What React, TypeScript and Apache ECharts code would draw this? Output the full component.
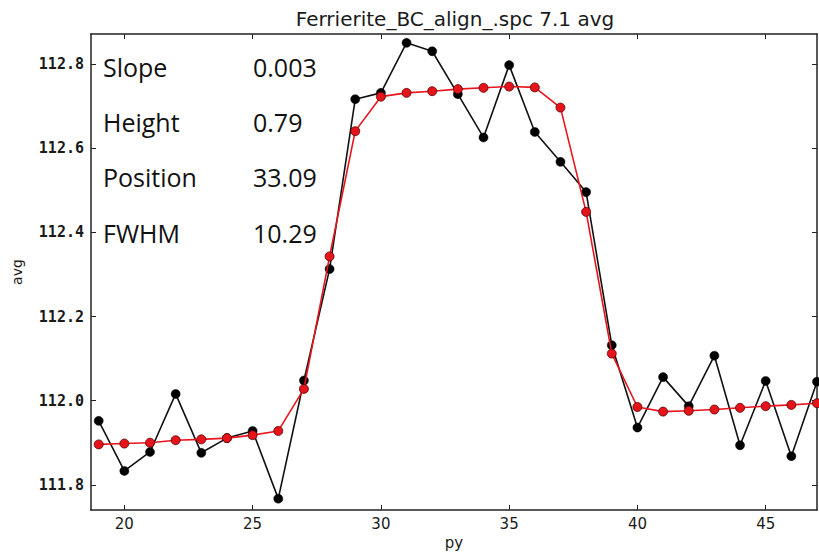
import React, { useEffect, useRef } from "react";
import * as echarts from "echarts";

const pyValues = [19, 20, 21, 22, 23, 24, 25, 26, 27, 28, 29, 30, 31, 32, 33, 34, 35, 36, 37, 38, 39, 40, 41, 42, 43, 44, 45, 46, 47];
const avgMeasured = [111.952, 111.833, 111.878, 112.016, 111.876, 111.911, 111.928, 111.767, 112.048, 112.313, 112.717, 112.732, 112.851, 112.831, 112.729, 112.626, 112.798, 112.639, 112.568, 112.496, 112.132, 111.936, 112.056, 111.987, 112.107, 111.894, 112.047, 111.868, 112.045];
const avgFit = [111.896, 111.898, 111.900, 111.906, 111.908, 111.911, 111.918, 111.928, 112.028, 112.343, 112.641, 112.723, 112.732, 112.736, 112.741, 112.744, 112.747, 112.745, 112.697, 112.449, 112.112, 111.985, 111.974, 111.976, 111.979, 111.983, 111.987, 111.990, 111.994];
const xTicks = [20, 25, 30, 35, 40, 45];
const yTicks = [111.8, 112.0, 112.2, 112.4, 112.6, 112.8];
const fitParamNames = ["Slope", "Height", "Position", "FWHM"];
const fitParamValues = ["0.003", "0.79", "33.09", "10.29"];
const chartTitle = "Ferrierite_BC_align_.spc 7.1 avg";
const xName = "py";
const yName = "avg";

const X_MIN = 18.7, X_MAX = 47;
const Y_MIN = 111.74, Y_MAX = 112.872;

export default function App() {
  const ref = useRef<HTMLDivElement>(null);
  useEffect(() => {
    if (!ref.current) return;
    const chart = echarts.init(ref.current, null, { renderer: "svg" });
    const lineCol = "#222";
    const axisCommon = (pos: string, withLabels: boolean, ticks: number[], isY: boolean) => ({
      type: "value",
      position: pos,
      min: isY ? Y_MIN : X_MIN,
      max: isY ? Y_MAX : X_MAX,
      axisLine: { show: true, onZero: false, lineStyle: { color: lineCol, width: 1.5 } },
      axisTick: { show: true, inside: true, length: 5, customValues: ticks, lineStyle: { color: lineCol, width: 1 } },
      axisLabel: withLabels
        ? {
            show: true,
            customValues: ticks,
            margin: isY ? 7 : 6,
            fontFamily: isY ? "DejaVu Sans Mono" : "DejaVu Sans",
            fontWeight: isY ? "bold" : "normal",
            fontSize: 15,
            color: "#1a1a1a",
            formatter: (v: number) => (isY ? v.toFixed(1) : String(Math.round(v))),
          }
        : { show: false },
      splitLine: { show: false },
    });

    const graphics: any[] = [
      {
        type: "text",
        x: 455,
        y: 19,
        style: { text: chartTitle, align: "center", verticalAlign: "middle", font: '20px "DejaVu Sans"', fill: "#1a1a1a" },
      },
      {
        type: "text",
        x: 17,
        y: 272,
        rotation: Math.PI / 2,
        style: { text: yName, align: "center", verticalAlign: "middle", font: '14px "DejaVu Sans"', fill: "#1a1a1a" },
      },
      {
        type: "text",
        x: 454,
        y: 543,
        style: { text: xName, align: "center", verticalAlign: "middle", font: '15px "DejaVu Sans"', fill: "#1a1a1a" },
      },
    ];
    const rowY = [67, 122, 177, 233];
    fitParamNames.forEach((n, i) => {
      graphics.push({
        type: "text",
        x: 103,
        y: rowY[i],
        style: { text: n, align: "left", verticalAlign: "middle", font: '25px "Open Sans"', fill: "#111" },
      });
      graphics.push({
        type: "text",
        x: 253,
        y: rowY[i],
        style: { text: fitParamValues[i], align: "left", verticalAlign: "middle", font: '25px "Open Sans"', fill: "#111" },
      });
    });

    chart.setOption({
      animation: false,
      backgroundColor: "#fff",
      grid: { left: 91, top: 34, right: 2, bottom: 44, containLabel: false },
      xAxis: [axisCommon("bottom", true, xTicks, false), axisCommon("top", false, xTicks, false)],
      yAxis: [axisCommon("left", true, yTicks, true), axisCommon("right", false, yTicks, true)],
      series: [
        {
          type: "line",
          name: "measured",
          xAxisIndex: 0,
          yAxisIndex: 0,
          data: pyValues.map((p, i) => [p, avgMeasured[i]]),
          symbol: "circle",
          symbolSize: 9,
          lineStyle: { color: "#111", width: 1.6 },
          itemStyle: { color: "#000", borderColor: "#000", borderWidth: 0.5 },
          clip: true,
          z: 2,
        },
        {
          type: "line",
          name: "fit",
          xAxisIndex: 0,
          yAxisIndex: 0,
          data: pyValues.map((p, i) => [p, avgFit[i]]),
          symbol: "circle",
          symbolSize: 9,
          lineStyle: { color: "#e8141e", width: 1.6 },
          itemStyle: { color: "#e5141b", borderColor: "#5a0000", borderWidth: 0.8 },
          clip: true,
          z: 3,
        },
      ],
      graphic: graphics,
    });
    return () => chart.dispose();
  }, []);
  return (
    <div
      ref={ref}
      style={{ position: "absolute", left: 0, top: 0, width: 819, height: 554, background: "#fff" }}
    />
  );
}
